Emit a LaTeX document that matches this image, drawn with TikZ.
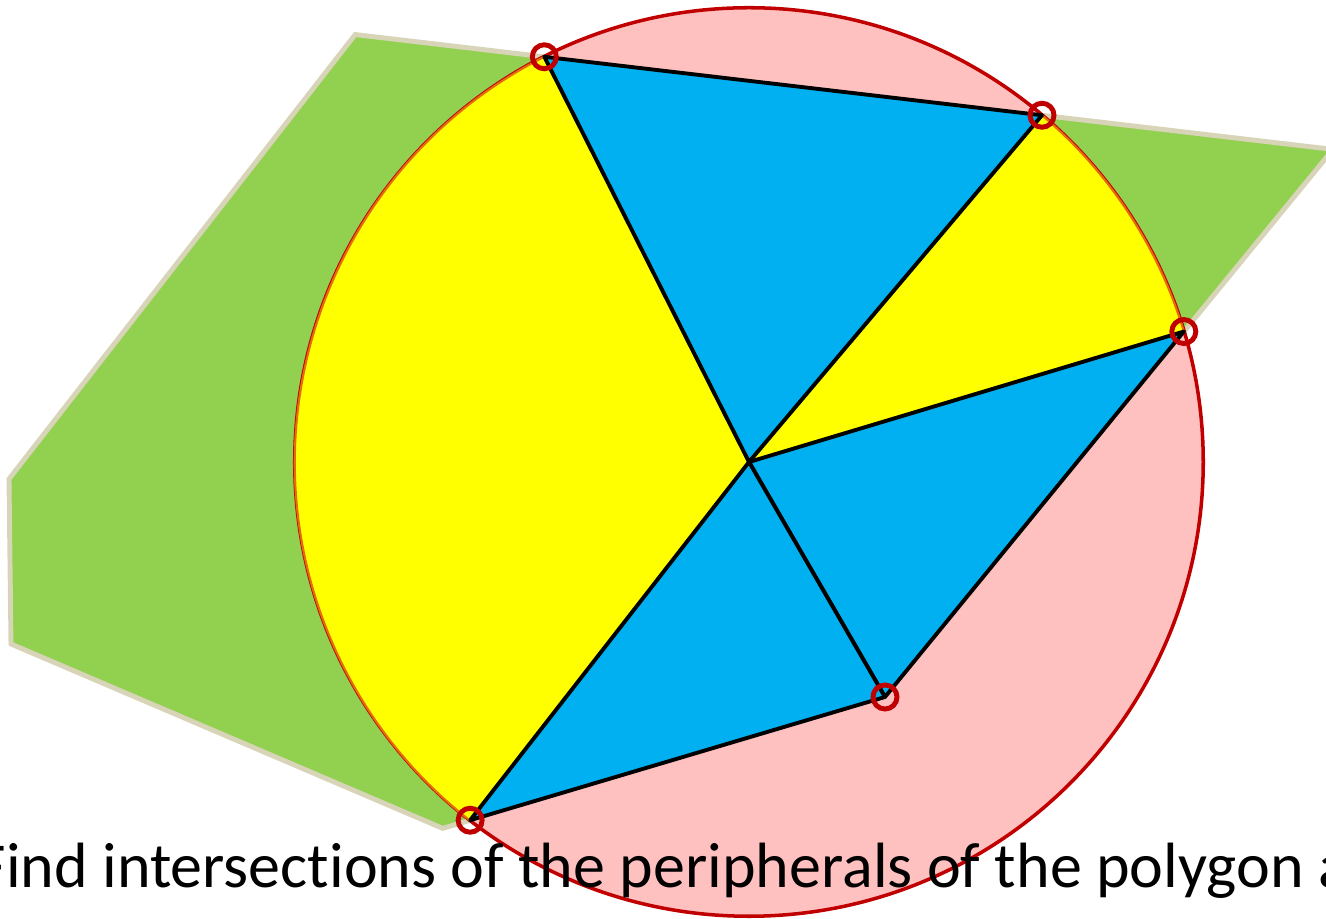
\documentclass[tikz,border=0pt]{standalone}
\usepackage{fontspec}
\setmainfont{Carlito}[Ligatures=NoCommon]
\usetikzlibrary{calc}
\definecolor{polyGreen}{HTML}{92D050}
\definecolor{polyEdge}{HTML}{D8D4B8}
\definecolor{circPink}{HTML}{FFC0C0}
\definecolor{circRed}{HTML}{C00000}
\definecolor{sectYellow}{HTML}{FFFF00}
\definecolor{sectEdge}{HTML}{E46C0A}
\definecolor{triBlue}{HTML}{00B0F0}

\begin{document}
\begin{tikzpicture}[
    x=0.01cm, y=0.01cm,
    polygon/.style={fill=polyGreen, draw=polyEdge, line width=1.4pt, line join=miter},
    disc/.style={fill=circPink, draw=circRed, line width=1pt},
    sector/.style={fill=sectYellow, draw=sectEdge, line width=0.6pt},
    piece/.style={fill=triBlue, draw=black, line width=1.1pt, line join=round},
    hit/.style={circle, draw=circRed, line width=1.4pt, minimum size=0.24cm, inner sep=0pt},
    caption/.style={font=\fontsize{18.2}{22}\selectfont, anchor=base west, inner sep=0pt}
  ]
    \useasboundingbox (0,0) rectangle (1326,-919);
    \begin{scope}
    \clip (0,0) rectangle (1326,-919);

    \coordinate (C) at (749,-462);
    \coordinate (P1) at ($(C)+(116.8:454)$);
    \coordinate (P2) at ($(C)+(49.8:454)$);
    \coordinate (P3) at ($(C)+(16.7:454)$);
    \coordinate (P4) at ($(C)+(232.1:454)$);
    \coordinate (Q) at (885,-697);

    \coordinate (TL) at ($(P2)!1.38!(P1)$);
    \coordinate (TR) at (intersection of P1--P2 and Q--P3);
    \coordinate (BL) at ($(Q)!1.066!(P4)$);
    \coordinate (L1) at (11,-644);
    \coordinate (L2) at (9,-479);

    \draw[polygon] (TL) -- (TR) -- (Q) -- (BL) -- (L1) -- (L2) -- cycle;
    \draw[disc] (C) circle[radius=4.54cm];

    \draw[sector] (C) -- (P1) arc[start angle=116.8, end angle=232.1, radius=4.54cm] -- cycle;
    \draw[sector] (C) -- (P2) arc[start angle=49.8, end angle=16.7, radius=4.54cm] -- cycle;

    \draw[piece] (P1) -- (P2) -- (C) -- cycle;
    \draw[piece] (C) -- (P3) -- (Q) -- cycle;
    \draw[piece] (C) -- (Q) -- (P4) -- cycle;

    \foreach \p in {P1,P2,P3,Q,P4}
      \node[hit] (ring-\p) at (\p) {};

    \node[caption] (note) at (-24,-888) {Find intersections of the peripherals of the polygon a};
    \end{scope}
\end{tikzpicture}
\end{document}
